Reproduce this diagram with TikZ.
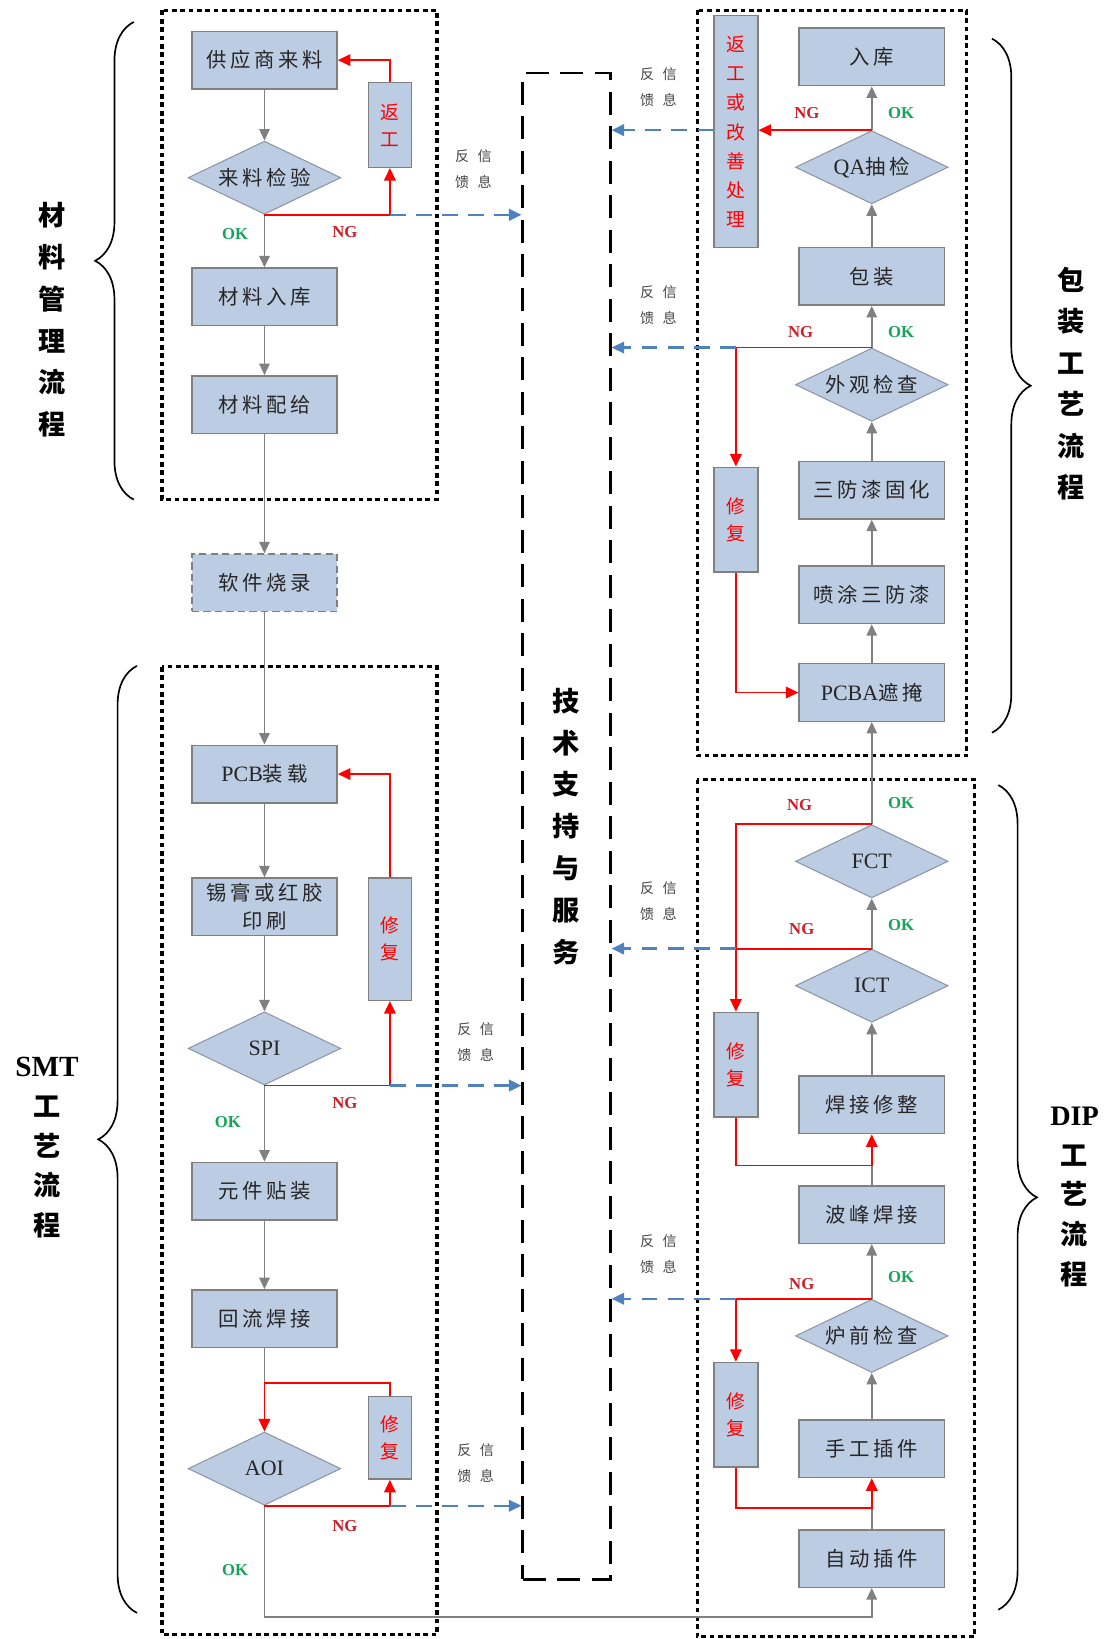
\documentclass[tikz,border=0pt]{standalone}
\usepackage{fontspec}
\setmainfont{Liberation Serif}
\newfontfamily\cjk[LetterSpace=18]{Noto Sans CJK SC}
\newfontfamily\cjkplain{Noto Sans CJK SC}
\usetikzlibrary{shapes.geometric,arrows.meta,decorations.pathreplacing}
\definecolor{boxfill}{RGB}{187,204,227}
\definecolor{boxline}{RGB}{128,128,128}
\definecolor{dialine}{RGB}{140,150,165}
\definecolor{flowgray}{RGB}{128,128,128}
\definecolor{ngred}{RGB}{255,0,0}
\definecolor{nglab}{RGB}{205,30,40}
\definecolor{fbblue}{RGB}{79,129,189}
\definecolor{okgreen}{RGB}{20,165,90}
\definecolor{txt}{RGB}{38,38,38}
\definecolor{fbtxt}{RGB}{70,70,70}
\begin{document}
\begin{tikzpicture}[x=1pt,y=-1pt,
 pbox/.style={draw=boxline,fill=boxfill,line width=1.4pt,minimum width=139pt,minimum height=55pt,inner sep=0pt,text=txt,font=\cjk\fontsize{19.5}{27}\selectfont,align=center},
 rbox/.style={draw=boxline,fill=boxfill,line width=1.4pt,minimum width=41pt,inner sep=0pt,text=ngred,font=\cjkplain\fontsize{18}{26}\selectfont,align=center},
 dia/.style={diamond,shape aspect=2.1,draw=dialine,fill=boxfill,line width=1pt,minimum width=146pt,minimum height=70pt,inner sep=0pt,text=txt,font=\cjk\fontsize{19.5}{24}\selectfont},
 latin/.style={font=\rmfamily\fontsize{21}{24}\selectfont},
 flow/.style={draw=flowgray,line width=1.6pt},
 flowarr/.style={flow,-{Triangle[length=11pt,width=10pt]}},
 ng/.style={draw=ngred,line width=1.8pt},
 ngarr/.style={ng,-{Triangle[length=12pt,width=11pt]}},
 fb/.style={draw=fbblue,line width=2.2pt,dash pattern=on 15pt off 10pt,-{Triangle[length=12pt,width=11pt]}},
 grp/.style={draw=black,line width=3pt,dash pattern=on 4.5pt off 3.5pt},
 okl/.style={text=okgreen,font=\bfseries\fontsize{16}{16}\selectfont},
 ngl/.style={text=nglab,font=\bfseries\fontsize{16}{16}\selectfont},
 fbl/.style={text=fbtxt,font=\cjkplain\fontsize{13.5}{25}\selectfont,align=center},
 side/.style={text=black,font=\cjkplain\bfseries\fontsize{26}{40}\selectfont,align=center},
 brc/.style={draw=black,line width=1.6pt,decorate,decoration={brace,amplitude=37pt}},
]
\fill[white] (0,0) rectangle (1063,1568);
\useasboundingbox (0,0) rectangle (1063,1568);

% group boxes
\draw[grp] (155,10) rectangle (418,478);
\draw[grp] (155,638) rectangle (418,1564);
\draw[grp] (667,10) rectangle (925,723);
\draw[grp] (667,746) rectangle (932,1566);

% braces
\draw[brc] (128,478) -- (128,21);
\draw[brc] (131,1543) -- (131,637);
\draw[brc] (949,37) -- (949,701);
\draw[brc] (955,751) -- (955,1540);

% side labels
\node[side] (lm) at (50,306) {材\\料\\管\\理\\流\\程};
\node[side,font=\cjkplain\bfseries\fontsize{26}{38}\selectfont] (ls) at (45,1098) {{\rmfamily\bfseries\fontsize{28}{38}\selectfont SMT}\\工\\艺\\流\\程};
\node[side,font=\cjkplain\bfseries\fontsize{26}{39.6}\selectfont] (lp) at (1025,367) {包\\装\\工\\艺\\流\\程};
\node[side,font=\cjkplain\bfseries\fontsize{26}{38}\selectfont] (ld) at (1028,1145) {{\rmfamily\bfseries\fontsize{27}{38}\selectfont DIP}\\工\\艺\\流\\程};

% tech support
\node[draw=black,line width=2.2pt,dash pattern=on 22pt off 11pt,minimum width=84pt,minimum height=1441pt,inner sep=0pt,font=\cjkplain\bfseries\fontsize{26}{40}\selectfont,align=center] (tech) at (542,790.5) {技\\术\\支\\持\\与\\服\\务};

% material
\node[pbox] (n1) at (253,57.5) {供应商来料};
\node[rbox,minimum height=81pt] (rw1) at (373,119.5) {返\\工};
\node[dia] (d1) at (253,170) {来料检验};
\node[pbox] (n2) at (253,284) {材料入库};
\node[pbox] (n3) at (253,387) {材料配给};
\node[pbox,dash pattern=on 7pt off 4pt] (sw) at (253,557.5) {软件烧录};

% SMT
\node[pbox] (s1) at (253,740.5) {{\rmfamily\fontsize{21}{24}\selectfont PCB}装载};
\node[pbox] (s2) at (253,867.5) {锡膏或红胶\\印刷};
\node[rbox,minimum height=117pt] (rs1) at (373,898.5) {修\\复};
\node[dia,latin] (d2) at (253,1003) {SPI};
\node[pbox] (s3) at (253,1139.5) {元件贴装};
\node[pbox] (s4) at (253,1261.5) {回流焊接};
\node[rbox,minimum height=79pt] (rs2) at (373,1375.5) {修\\复};
\node[dia,latin] (d3) at (253,1405) {AOI};

% packaging
\node[pbox] (p1) at (834,54.5) {入库};
\node[rbox,minimum width=42pt,minimum height=222pt,font=\cjkplain\fontsize{18}{27.8}\selectfont] (rp) at (704,126) {返\\工\\或\\改\\善\\处\\理};
\node[dia] (dq) at (834,160) {{\rmfamily\fontsize{21}{24}\selectfont QA}抽检};
\node[pbox] (p2) at (834,264.5) {包装};
\node[dia] (dw) at (834,368) {外观检查};
\node[rbox,minimum width=42pt,minimum height=100pt] (rp2) at (704,497) {修\\复};
\node[pbox] (p3) at (834,469) {三防漆固化};
\node[pbox] (p4) at (834,569) {喷涂三防漆};
\node[pbox] (p5) at (834,662.5) {{\rmfamily\fontsize{21}{24}\selectfont PCBA}遮掩};

% DIP
\node[dia,latin] (dF) at (834,824) {FCT};
\node[dia,latin] (dI) at (834,943) {ICT};
\node[rbox,minimum width=42pt,minimum height=100pt] (rd1) at (704,1018.5) {修\\复};
\node[pbox] (q1) at (834,1057) {焊接修整};
\node[pbox] (q2) at (834,1162) {波峰焊接};
\node[dia] (dL) at (834,1278) {炉前检查};
\node[rbox,minimum width=42pt,minimum height=100pt] (rd2) at (704,1353.5) {修\\复};
\node[pbox] (q3) at (834,1386) {手工插件};
\node[pbox] (q4) at (834,1491) {自动插件};

\coordinate (aoiin) at (253,1323);
\coordinate (aoiout) at (253,1547);
\coordinate (q1in) at (834,1115);
\coordinate (q3in) at (834,1443);

% gray flow
\draw[flowarr] (n1.south) -- (d1.north);
\draw[flowarr] (d1.south) -- (n2.north);
\draw[flowarr] (n2.south) -- (n3.north);
\draw[flowarr] (n3.south) -- (sw.north);
\draw[flowarr] (sw.south) -- (s1.north);
\draw[flowarr] (s1.south) -- (s2.north);
\draw[flowarr] (s2.south) -- (d2.north);
\draw[flowarr] (d2.south) -- (s3.north);
\draw[flowarr] (s3.south) -- (s4.north);
\draw[flow] (s4.south) -- (aoiin);
\draw[flowarr] (d3.south) -- (aoiout) -| (q4.south);
\draw[flow] (q4.north) -- (q3in);
\draw[flowarr] (q3.north) -- (dL.south);
\draw[flowarr] (dL.north) -- (q2.south);
\draw[flow] (q2.north) -- (q1in);
\draw[flowarr] (q1.north) -- (dI.south);
\draw[flowarr] (dI.north) -- (dF.south);
\draw[flowarr] (dF.north) -- (p5.south);
\draw[flowarr] (p5.north) -- (p4.south);
\draw[flowarr] (p4.north) -- (p3.south);
\draw[flowarr] (p3.north) -- (dw.south);
\draw[flowarr] (dw.north) -- (p2.south);
\draw[flowarr] (p2.north) -- (dq.south);
\draw[flowarr] (dq.north) -- (p1.south);

% red NG paths
\draw[ngarr] (d1.south) -| (rw1.south);
\draw[ngarr] (rw1.north) |- (n1.east);
\draw[ngarr] (d2.south) -| (rs1.south);
\draw[ngarr] (rs1.north) |- (s1.east);
\draw[ngarr] (d3.south) -| (rs2.south);
\draw[ngarr] (rs2.north) |- (aoiin) -- (d3.north);
\draw[ngarr] (dq.north) -- (dq.north -| rp.east);
\draw[ngarr] (dw.north) -| (rp2.north);
\draw[ngarr] (rp2.south) |- (p5.west);
\draw[ngarr] (dF.north) -| (rd1.north);
\draw[ng] (dI.north) -- (dI.north -| rd1.north);
\draw[ngarr] (rd1.south) |- (q1in) -- (q1.south);
\draw[ngarr] (dL.north) -| (rd2.north);
\draw[ngarr] (rd2.south) |- (q3in) -- (q3.south);

% feedback arrows
\draw[fb] (rw1.south |- d1.south) -- (tech.west |- d1.south);
\draw[fb] (rs1.south |- d2.south) -- (tech.west |- d2.south);
\draw[fb] (rs2.south |- d3.south) -- (tech.west |- d3.south);
\draw[fb] (rp.west |- dq.north) -- (tech.east |- dq.north);
\draw[fb] (rp2.north |- dw.north) -- (tech.east |- dw.north);
\draw[fb] (rd1.north |- dI.north) -- (tech.east |- dI.north);
\draw[fb] (rd2.north |- dL.north) -- (tech.east |- dL.north);

% feedback labels
\node[fbl] (fb1) at (453,162) {反\hspace{8pt}信\\馈\hspace{8pt}息};
\node[fbl] (fb2) at (455,997) {反\hspace{8pt}信\\馈\hspace{8pt}息};
\node[fbl] (fb3) at (455,1400) {反\hspace{8pt}信\\馈\hspace{8pt}息};
\node[fbl] (fb4) at (630,83) {反\hspace{8pt}信\\馈\hspace{8pt}息};
\node[fbl] (fb5) at (630,292) {反\hspace{8pt}信\\馈\hspace{8pt}息};
\node[fbl] (fb6) at (630,862) {反\hspace{8pt}信\\馈\hspace{8pt}息};
\node[fbl] (fb7) at (630,1200) {反\hspace{8pt}信\\馈\hspace{8pt}息};

% OK / NG labels
\node[okl] (ok1) at (225,224) {OK};
\node[ngl] (ng1) at (330,222) {NG};
\node[ngl] (ng2) at (330,1055) {NG};
\node[okl] (ok2) at (218,1073) {OK};
\node[ngl] (ng3) at (330,1460) {NG};
\node[okl] (ok3) at (225,1502) {OK};
\node[ngl] (ng4) at (772,108) {NG};
\node[okl] (ok4) at (862,108) {OK};
\node[ngl] (ng5) at (766,318) {NG};
\node[okl] (ok5) at (862,318) {OK};
\node[ngl] (ng6) at (765,770) {NG};
\node[okl] (ok6) at (862,768) {OK};
\node[ngl] (ng7) at (767,889) {NG};
\node[okl] (ok7) at (862,885) {OK};
\node[ngl] (ng8) at (767,1228) {NG};
\node[okl] (ok8) at (862,1222) {OK};
\end{tikzpicture}
\end{document}
